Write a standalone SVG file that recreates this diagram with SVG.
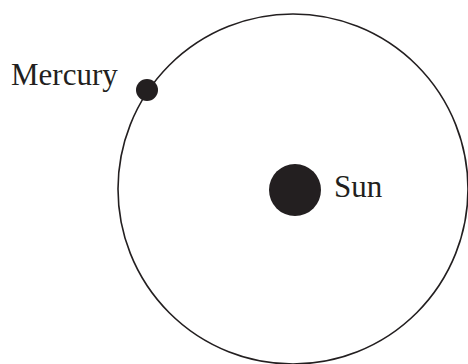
<svg xmlns="http://www.w3.org/2000/svg" width="468" height="364" viewBox="0 0 468 364">
<style>
text{font-family:"Liberation Serif","Times New Roman",serif;font-size:31px;fill:#231f20}
</style>
<rect width="468" height="364" fill="#fff"/>
<g id="orbit"><circle cx="293" cy="189" r="175" fill="none" stroke="#231f20" stroke-width="1.6"/></g>
<g id="sun"><circle cx="295" cy="190" r="26" fill="#231f20"/><text x="334" y="197">Sun</text></g>
<g id="mercury"><circle cx="147" cy="90" r="11" fill="#231f20"/><text x="11" y="85">Mercury</text></g>
</svg>
